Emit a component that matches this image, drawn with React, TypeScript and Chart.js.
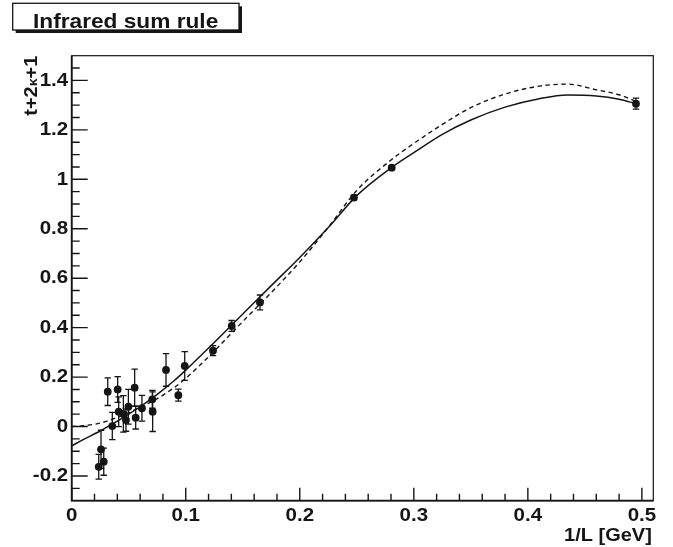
import React, { useEffect, useRef } from "react";
import { Chart, registerables } from "chart.js";

Chart.register(...registerables);

// ---- data ----
const pointX = [0.0237, 0.0257, 0.0281, 0.0316, 0.0356, 0.0403, 0.0412, 0.0453, 0.0476, 0.0497, 0.0552, 0.0561, 0.0616, 0.0707, 0.071, 0.0827, 0.0935, 0.0991, 0.1239, 0.1403, 0.1651, 0.2475, 0.2806, 0.4948];
const pointY = [-0.163, -0.092, -0.142, 0.141, 0.002, 0.15, 0.06, 0.051, 0.026, 0.08, 0.157, 0.036, 0.074, 0.11, 0.06, 0.229, 0.127, 0.245, 0.307, 0.407, 0.502, 0.926, 1.047, 1.306];
const pointErr = [0.05, 0.077, 0.055, 0.056, 0.055, 0.052, 0.06, 0.074, 0.045, 0.07, 0.075, 0.046, 0.052, 0.036, 0.08, 0.066, 0.024, 0.058, 0.02, 0.022, 0.03, 0.01, 0.008, 0.022];

const curveX = [0, 0.01, 0.025, 0.04, 0.05, 0.06, 0.075, 0.09, 0.1, 0.125, 0.15, 0.175, 0.2, 0.225, 0.25, 0.28, 0.3, 0.325, 0.35, 0.38, 0.41, 0.435, 0.46, 0.48, 0.495];
const solidY = [-0.078, -0.053, -0.018, 0.022, 0.05, 0.08, 0.13, 0.186, 0.228, 0.34, 0.455, 0.57, 0.684, 0.805, 0.934, 1.046, 1.108, 1.182, 1.24, 1.292, 1.326, 1.341, 1.337, 1.324, 1.306];
const dashedY = [0.0, 0.003, 0.014, 0.037, 0.056, 0.078, 0.113, 0.158, 0.195, 0.305, 0.425, 0.542, 0.666, 0.806, 0.955, 1.078, 1.145, 1.222, 1.29, 1.345, 1.377, 1.385, 1.362, 1.342, 1.315];

const xTickValues = [0, 0.1, 0.2, 0.3, 0.4, 0.5];
const xTickLabels = ["0", "0.1", "0.2", "0.3", "0.4", "0.5"];
const yTickValues = [-0.2, 0, 0.2, 0.4, 0.6, 0.8, 1, 1.2, 1.4];
const yTickLabels = ["-0.2", "0", "0.2", "0.4", "0.6", "0.8", "1", "1.2", "1.4"];
const xMinorStep = 0.02;
const yMinorStep = 0.05;
const xRange = [0, 0.51];
const yRange = [-0.3, 1.5];

const titleText = "Infrared sum rule";
const xTitle = "1/L [GeV]";
const yTitleParts = ["t+2", "\u03BA", "+1"];

// ---- drawing helpers ----
const INK = "#151515";
const FONT = '"Liberation Sans", Arial, Helvetica, sans-serif';
const SX = 1.08;

function stretchedText(ctx: CanvasRenderingContext2D, text: string, x: number, y: number, align: "left" | "right" | "center", base: CanvasTextBaseline) {
  ctx.save();
  ctx.translate(x, y);
  ctx.scale(SX, 1);
  ctx.textAlign = align;
  ctx.textBaseline = base;
  ctx.fillText(text, 0, 0);
  ctx.restore();
}

const decorPlugin = {
  id: "decor",
  beforeDatasetsDraw(chart: any) {
    const ctx: CanvasRenderingContext2D = chart.ctx;
    const xs = chart.scales.x;
    const ys = chart.scales.y;
    ctx.save();
    ctx.strokeStyle = INK;
    ctx.lineWidth = 1.3;
    for (let i = 0; i < pointX.length; i++) {
      const px = xs.getPixelForValue(pointX[i]);
      const top = ys.getPixelForValue(pointY[i] + pointErr[i]);
      const bot = ys.getPixelForValue(pointY[i] - pointErr[i]);
      ctx.beginPath();
      ctx.moveTo(px, top);
      ctx.lineTo(px, bot);
      ctx.moveTo(px - 3.2, top);
      ctx.lineTo(px + 3.2, top);
      ctx.moveTo(px - 3.2, bot);
      ctx.lineTo(px + 3.2, bot);
      ctx.stroke();
    }
    ctx.restore();
  },
  afterDraw(chart: any) {
    const ctx: CanvasRenderingContext2D = chart.ctx;
    const xs = chart.scales.x;
    const ys = chart.scales.y;
    const a = chart.chartArea;
    ctx.save();
    ctx.strokeStyle = INK;
    ctx.fillStyle = INK;

    // frame
    ctx.lineWidth = 1.2;
    ctx.strokeRect(a.left, a.top, a.right - a.left, a.bottom - a.top);
    ctx.lineWidth = 1.8;
    ctx.beginPath();
    ctx.moveTo(a.left, a.top);
    ctx.lineTo(a.left, a.bottom);
    ctx.lineTo(a.right, a.bottom);
    ctx.stroke();

    // ticks
    ctx.lineWidth = 1.4;
    ctx.beginPath();
    for (let v = xRange[0]; v <= xRange[1] + 1e-9; v += xMinorStep) {
      const px = xs.getPixelForValue(v);
      const major = Math.abs(v / 0.1 - Math.round(v / 0.1)) < 1e-6;
      ctx.moveTo(px, a.bottom);
      ctx.lineTo(px, a.bottom - (major ? 13 : 7));
    }
    for (let k = Math.ceil((yRange[0] + 1e-9) / yMinorStep); k * yMinorStep <= yRange[1] - 1e-9; k++) {
      const v = k * yMinorStep;
      const py = ys.getPixelForValue(v);
      const major = k % 4 === 0;
      ctx.moveTo(a.left, py);
      ctx.lineTo(a.left + (major ? 16 : 8), py);
    }
    ctx.stroke();

    // tick labels
    ctx.font = `bold 19px ${FONT}`;
    xTickValues.forEach((v, i) => {
      stretchedText(ctx, xTickLabels[i], xs.getPixelForValue(v), 520.5, "center", "alphabetic");
    });
    yTickValues.forEach((v, i) => {
      stretchedText(ctx, yTickLabels[i], a.left - 3.5, ys.getPixelForValue(v), "right", "middle");
    });

    // x title
    ctx.font = `bold 18.5px ${FONT}`;
    stretchedText(ctx, xTitle, a.right - 1.5, 540.5, "right", "alphabetic");

    // y title (rotated, ends at top of frame)
    const fonts = [`bold 18.5px ${FONT}`, `bold 13px ${FONT}`, `bold 18.5px ${FONT}`];
    let total = 0;
    const widths = yTitleParts.map((p, i) => {
      ctx.font = fonts[i];
      const w = ctx.measureText(p).width * SX;
      total += w;
      return w;
    });
    ctx.save();
    ctx.translate(37, a.top);
    ctx.rotate(-Math.PI / 2);
    let cx = -total;
    yTitleParts.forEach((p, i) => {
      ctx.font = fonts[i];
      ctx.save();
      ctx.translate(cx, 0);
      ctx.scale(SX, 1);
      ctx.textAlign = "left";
      ctx.textBaseline = "alphabetic";
      ctx.fillText(p, 0, 0);
      ctx.restore();
      cx += widths[i];
    });
    ctx.restore();

    // title box with shadow
    const bx = 12.7, by = 3.3, bw = 226.3, bh = 26.7;
    ctx.fillStyle = INK;
    ctx.fillRect(bx + 3, by + 3, bw, bh);
    ctx.fillStyle = "#ffffff";
    ctx.fillRect(bx, by, bw, bh);
    ctx.lineWidth = 1.3;
    ctx.strokeRect(bx, by, bw, bh);
    ctx.fillStyle = INK;
    ctx.font = `bold 21px ${FONT}`;
    stretchedText(ctx, titleText, 33, 28.3, "left", "alphabetic");

    ctx.restore();
  },
};

export default function App() {
  const canvasRef = useRef<HTMLCanvasElement | null>(null);

  useEffect(() => {
    if (!canvasRef.current) return;
    const chart = new Chart(canvasRef.current, {
      type: "scatter",
      data: {
        datasets: [
          {
            label: "data",
            data: pointX.map((x, i) => ({ x, y: pointY[i] })),
            pointRadius: 3.9,
            pointBackgroundColor: INK,
            pointBorderWidth: 0,
            showLine: false,
          },
          {
            label: "fit",
            data: curveX.map((x, i) => ({ x, y: solidY[i] })),
            showLine: true,
            borderColor: INK,
            borderWidth: 1.5,
            pointRadius: 0,
            cubicInterpolationMode: "monotone",
            fill: false,
          },
          {
            label: "fit2",
            data: curveX.map((x, i) => ({ x, y: dashedY[i] })),
            showLine: true,
            borderColor: INK,
            borderWidth: 1.4,
            borderDash: [4.5, 3.5],
            pointRadius: 0,
            cubicInterpolationMode: "monotone",
            fill: false,
          },
        ],
      } as any,
      options: {
        animation: false,
        responsive: true,
        maintainAspectRatio: false,
        layout: { padding: { left: 71.7, right: 19.7, top: 55.7, bottom: 46.3 } },
        scales: {
          x: { type: "linear", min: xRange[0], max: xRange[1], display: false },
          y: { type: "linear", min: yRange[0], max: yRange[1], display: false },
        },
        plugins: {
          legend: { display: false },
          tooltip: { enabled: false },
        },
        events: [],
      } as any,
      plugins: [decorPlugin],
    });
    return () => chart.destroy();
  }, []);

  return (
    <div style={{ position: "absolute", left: 0, top: 0, width: 673, height: 547, background: "#fff" }}>
      <canvas ref={canvasRef} />
    </div>
  );
}
